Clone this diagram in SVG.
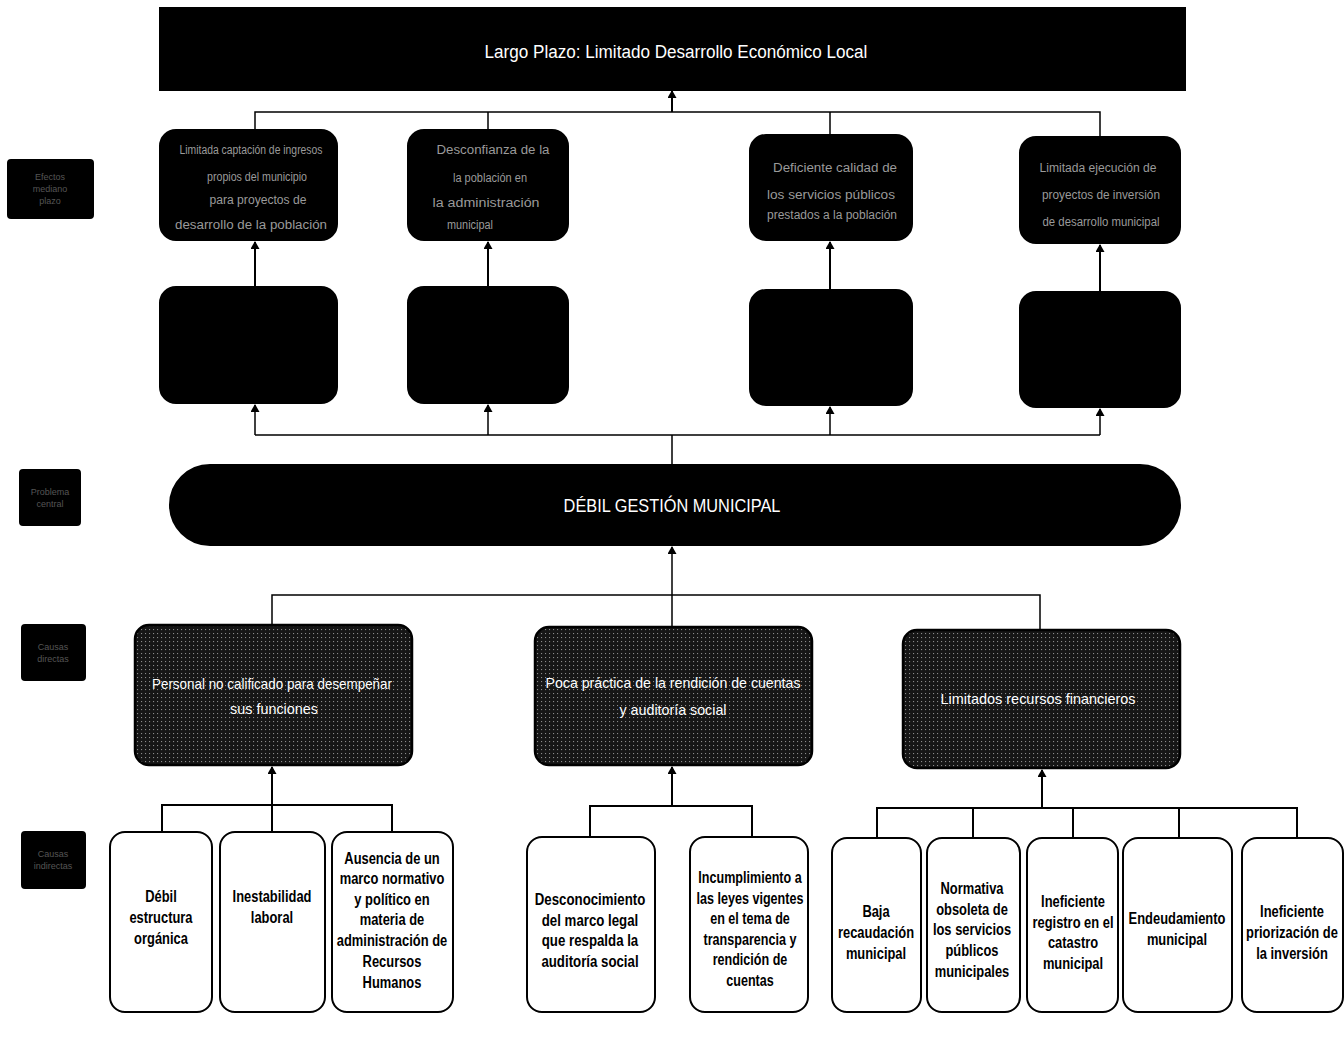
<svg xmlns="http://www.w3.org/2000/svg" width="1344" height="1038" viewBox="0 0 1344 1038">
<defs>
  <pattern id="speck" width="4" height="4" patternUnits="userSpaceOnUse">
    <rect width="4" height="4" fill="#161616"/>
    <rect x="1" y="1" width="1.1" height="1.1" fill="#8a8a8a"/>
  </pattern>
  <marker id="ah" markerWidth="8" markerHeight="9" refX="7" refY="4.5" orient="auto" markerUnits="userSpaceOnUse">
    <path d="M0,0 L8,4.5 L0,9 Z" fill="#000"/>
  </marker>
  <style>
    .blk{fill:#000;stroke:#000;stroke-width:2}
    .gry{fill:url(#speck);stroke:#000;stroke-width:2.5}
    .wht{fill:#fff;stroke:#000;stroke-width:2}
    .ln{fill:none;stroke:#000;stroke-width:1.5}
    .lnb{fill:none;stroke:#000;stroke-width:2}
    .t-ban{font-family:"Liberation Sans",Arial,sans-serif;font-size:19px;fill:#fff;text-anchor:middle}
    .t-dim{font-family:"Liberation Sans",Arial,sans-serif;font-size:12px;fill:#9a9a9a;text-anchor:middle}
    .t-lab{font-family:"Liberation Sans",Arial,sans-serif;font-size:9px;fill:#555;text-anchor:middle}
    .t-gry{font-family:"Liberation Sans",Arial,sans-serif;font-size:15px;fill:#fff;text-anchor:middle}
    .t-bot{font-family:"Liberation Sans",Arial,sans-serif;font-size:17px;font-weight:bold;fill:#000;text-anchor:middle}
  </style>
</defs>
<rect width="1344" height="1038" fill="#fff"/>

<!-- connectors -->
<g id="connectors">
  <path class="ln" d="M255,130 V112 H1100 V137 M488,112 V130 M830,112 V135"/>
  <line class="lnb" x1="672" y1="112" x2="672" y2="91" marker-end="url(#ah)"/>
  <line class="lnb" x1="255" y1="287" x2="255" y2="242" marker-end="url(#ah)"/>
  <line class="lnb" x1="488" y1="287" x2="488" y2="242" marker-end="url(#ah)"/>
  <line class="lnb" x1="830" y1="290" x2="830" y2="242" marker-end="url(#ah)"/>
  <line class="lnb" x1="1100" y1="292" x2="1100" y2="245" marker-end="url(#ah)"/>
  <path class="ln" d="M255,435 H1100 M672,465 V435"/>
  <line class="ln" x1="255" y1="435" x2="255" y2="405" marker-end="url(#ah)"/>
  <line class="ln" x1="488" y1="435" x2="488" y2="405" marker-end="url(#ah)"/>
  <line class="ln" x1="830" y1="435" x2="830" y2="407" marker-end="url(#ah)"/>
  <line class="ln" x1="1100" y1="435" x2="1100" y2="409" marker-end="url(#ah)"/>
  <path class="ln" d="M272,625 V595 H1040 V630 M672,595 V627"/>
  <line class="ln" x1="672" y1="595" x2="672" y2="547" marker-end="url(#ah)"/>
  <path class="lnb" d="M162,832 V805 H392 V832"/>
  <line class="lnb" x1="272" y1="832" x2="272" y2="767" marker-end="url(#ah)"/>
  <path class="lnb" d="M590,837 V806 H752 V837"/>
  <line class="lnb" x1="672" y1="806" x2="672" y2="767" marker-end="url(#ah)"/>
  <path class="lnb" d="M877,838 V808 H1297 V838 M973,808 V838 M1073,808 V838 M1179,808 V838"/>
  <line class="lnb" x1="1042" y1="808" x2="1042" y2="770" marker-end="url(#ah)"/>
</g>

<!-- left labels -->
<g id="label-efectos"><rect class="blk" x="8" y="160" width="85" height="58" rx="3"/>
  <text class="t-lab" x="50" y="180">Efectos</text><text class="t-lab" x="50" y="192">mediano</text><text class="t-lab" x="50" y="204">plazo</text></g>
<g id="label-problema"><rect class="blk" x="20" y="470" width="60" height="55" rx="3"/>
  <text class="t-lab" x="50" y="495">Problema</text><text class="t-lab" x="50" y="507">central</text></g>
<g id="label-causas-directas"><rect class="blk" x="22" y="625" width="63" height="55" rx="3"/>
  <text class="t-lab" x="53" y="650">Causas</text><text class="t-lab" x="53" y="662">directas</text></g>
<g id="label-causas-indirectas"><rect class="blk" x="22" y="832" width="63" height="56" rx="3"/>
  <text class="t-lab" x="53" y="857">Causas</text><text class="t-lab" x="53" y="869">indirectas</text></g>

<!-- banner -->
<g id="largo-plazo">
  <rect class="blk" x="160" y="8" width="1025" height="82"/>
  <g transform="translate(676 0) scale(0.9 1)"><text class="t-ban" x="0" y="58">Largo Plazo: Limitado Desarrollo Económico Local</text></g>
</g>

<!-- top row effects -->
<g id="efecto-1"><rect class="blk" x="160" y="130" width="177" height="110" rx="16"/>
  <text class="t-dim" x="251" y="154" textLength="143" lengthAdjust="spacingAndGlyphs">Limitada captación de ingresos</text>
  <text class="t-dim" x="257" y="181" textLength="100" lengthAdjust="spacingAndGlyphs">propios del municipio</text>
  <text class="t-dim" x="258" y="204" textLength="97" lengthAdjust="spacingAndGlyphs">para proyectos de</text>
  <text class="t-dim" x="251" y="229" textLength="152" lengthAdjust="spacingAndGlyphs">desarrollo de la población</text></g>
<g id="efecto-2"><rect class="blk" x="408" y="130" width="160" height="110" rx="16"/>
  <text class="t-dim" x="493" y="154" textLength="113" lengthAdjust="spacingAndGlyphs">Desconfianza de la</text>
  <text class="t-dim" x="490" y="182" textLength="74" lengthAdjust="spacingAndGlyphs">la población en</text>
  <text class="t-dim" x="486" y="207" textLength="107" lengthAdjust="spacingAndGlyphs">la administración</text>
  <text class="t-dim" x="470" y="229" textLength="46" lengthAdjust="spacingAndGlyphs">municipal</text></g>
<g id="efecto-3"><rect class="blk" x="750" y="135" width="162" height="105" rx="16"/>
  <text class="t-dim" x="835" y="172" textLength="124" lengthAdjust="spacingAndGlyphs">Deficiente calidad de</text>
  <text class="t-dim" x="831" y="199" textLength="128" lengthAdjust="spacingAndGlyphs">los servicios públicos</text>
  <text class="t-dim" x="832" y="219" textLength="130" lengthAdjust="spacingAndGlyphs">prestados a la población</text></g>
<g id="efecto-4"><rect class="blk" x="1020" y="137" width="160" height="106" rx="16"/>
  <text class="t-dim" x="1098" y="172" textLength="117" lengthAdjust="spacingAndGlyphs">Limitada ejecución de</text>
  <text class="t-dim" x="1101" y="199" textLength="118" lengthAdjust="spacingAndGlyphs">proyectos de inversión</text>
  <text class="t-dim" x="1101" y="226" textLength="117" lengthAdjust="spacingAndGlyphs">de desarrollo municipal</text></g>

<!-- second row -->
<g id="efecto-1b"><rect class="blk" x="160" y="287" width="177" height="116" rx="16"/></g>
<g id="efecto-2b"><rect class="blk" x="408" y="287" width="160" height="116" rx="16"/></g>
<g id="efecto-3b"><rect class="blk" x="750" y="290" width="162" height="115" rx="16"/></g>
<g id="efecto-4b"><rect class="blk" x="1020" y="292" width="160" height="115" rx="16"/></g>

<!-- central problem -->
<g id="problema-central">
  <rect class="blk" x="170" y="465" width="1010" height="80" rx="40"/>
  <g transform="translate(672 0) scale(0.86 1)"><text class="t-ban" x="0" y="512">DÉBIL GESTIÓN MUNICIPAL</text></g>
</g>

<!-- direct causes -->
<g id="causa-directa-1"><rect class="gry" x="135" y="625" width="277" height="140" rx="14"/>
  <text class="t-gry" x="272" y="689" textLength="240" lengthAdjust="spacingAndGlyphs">Personal no calificado para desempeñar</text>
  <text class="t-gry" x="274" y="714" textLength="88" lengthAdjust="spacingAndGlyphs">sus funciones</text></g>
<g id="causa-directa-2"><rect class="gry" x="535" y="627" width="277" height="138" rx="14"/>
  <text class="t-gry" x="673" y="688" textLength="255" lengthAdjust="spacingAndGlyphs">Poca práctica de la rendición de cuentas</text>
  <text class="t-gry" x="673" y="715" textLength="107" lengthAdjust="spacingAndGlyphs">y auditoría social</text></g>
<g id="causa-directa-3"><rect class="gry" x="903" y="630" width="277" height="138" rx="14"/>
  <text class="t-gry" x="1038" y="704" textLength="195" lengthAdjust="spacingAndGlyphs">Limitados recursos financieros</text></g>

<!-- indirect causes -->
<g id="ci-1"><rect class="wht" x="110" y="832" width="102" height="180" rx="15"/>
  <g transform="translate(161 0) scale(0.76 1)">
    <text class="t-bot" x="0" y="902">Débil</text><text class="t-bot" x="0" y="923">estructura</text><text class="t-bot" x="0" y="944">orgánica</text></g></g>
<g id="ci-2"><rect class="wht" x="220" y="832" width="105" height="180" rx="15"/>
  <g transform="translate(272 0) scale(0.76 1)">
    <text class="t-bot" x="0" y="902">Inestabilidad</text><text class="t-bot" x="0" y="923">laboral</text></g></g>
<g id="ci-3"><rect class="wht" x="332" y="832" width="121" height="180" rx="15"/>
  <g transform="translate(392 0) scale(0.76 1)">
    <text class="t-bot" x="0" y="864">Ausencia de un</text><text class="t-bot" x="0" y="884">marco normativo</text>
    <text class="t-bot" x="0" y="905">y político en</text><text class="t-bot" x="0" y="925">materia de</text>
    <text class="t-bot" x="0" y="946">administración de</text><text class="t-bot" x="0" y="967">Recursos</text>
    <text class="t-bot" x="0" y="988">Humanos</text></g></g>
<g id="ci-4"><rect class="wht" x="527" y="837" width="128" height="175" rx="15"/>
  <g transform="translate(590 0) scale(0.78 1)">
    <text class="t-bot" x="0" y="905">Desconocimiento</text><text class="t-bot" x="0" y="926">del marco legal</text>
    <text class="t-bot" x="0" y="946">que respalda la</text><text class="t-bot" x="0" y="967">auditoría social</text></g></g>
<g id="ci-5"><rect class="wht" x="690" y="837" width="118" height="175" rx="15"/>
  <g transform="translate(750 0) scale(0.74 1)">
    <text class="t-bot" x="0" y="883">Incumplimiento a</text><text class="t-bot" x="0" y="904">las leyes vigentes</text>
    <text class="t-bot" x="0" y="924">en el tema de</text><text class="t-bot" x="0" y="945">transparencia y</text>
    <text class="t-bot" x="0" y="965">rendición de</text><text class="t-bot" x="0" y="986">cuentas</text></g></g>
<g id="ci-6"><rect class="wht" x="832" y="838" width="89" height="174" rx="15"/>
  <g transform="translate(876 0) scale(0.76 1)">
    <text class="t-bot" x="0" y="917">Baja</text><text class="t-bot" x="0" y="938">recaudación</text><text class="t-bot" x="0" y="959">municipal</text></g></g>
<g id="ci-7"><rect class="wht" x="927" y="838" width="93" height="174" rx="15"/>
  <g transform="translate(972 0) scale(0.76 1)">
    <text class="t-bot" x="0" y="894">Normativa</text><text class="t-bot" x="0" y="915">obsoleta de</text>
    <text class="t-bot" x="0" y="935">los servicios</text><text class="t-bot" x="0" y="956">públicos</text>
    <text class="t-bot" x="0" y="977">municipales</text></g></g>
<g id="ci-8"><rect class="wht" x="1027" y="838" width="91" height="174" rx="15"/>
  <g transform="translate(1073 0) scale(0.76 1)">
    <text class="t-bot" x="0" y="907">Ineficiente</text><text class="t-bot" x="0" y="928">registro en el</text>
    <text class="t-bot" x="0" y="948">catastro</text><text class="t-bot" x="0" y="969">municipal</text></g></g>
<g id="ci-9"><rect class="wht" x="1123" y="838" width="109" height="174" rx="15"/>
  <g transform="translate(1177 0) scale(0.76 1)">
    <text class="t-bot" x="0" y="924">Endeudamiento</text><text class="t-bot" x="0" y="945">municipal</text></g></g>
<g id="ci-10"><rect class="wht" x="1242" y="838" width="101" height="174" rx="15"/>
  <g transform="translate(1292 0) scale(0.76 1)">
    <text class="t-bot" x="0" y="917">Ineficiente</text><text class="t-bot" x="0" y="938">priorización de</text><text class="t-bot" x="0" y="959">la inversión</text></g></g>
</svg>
